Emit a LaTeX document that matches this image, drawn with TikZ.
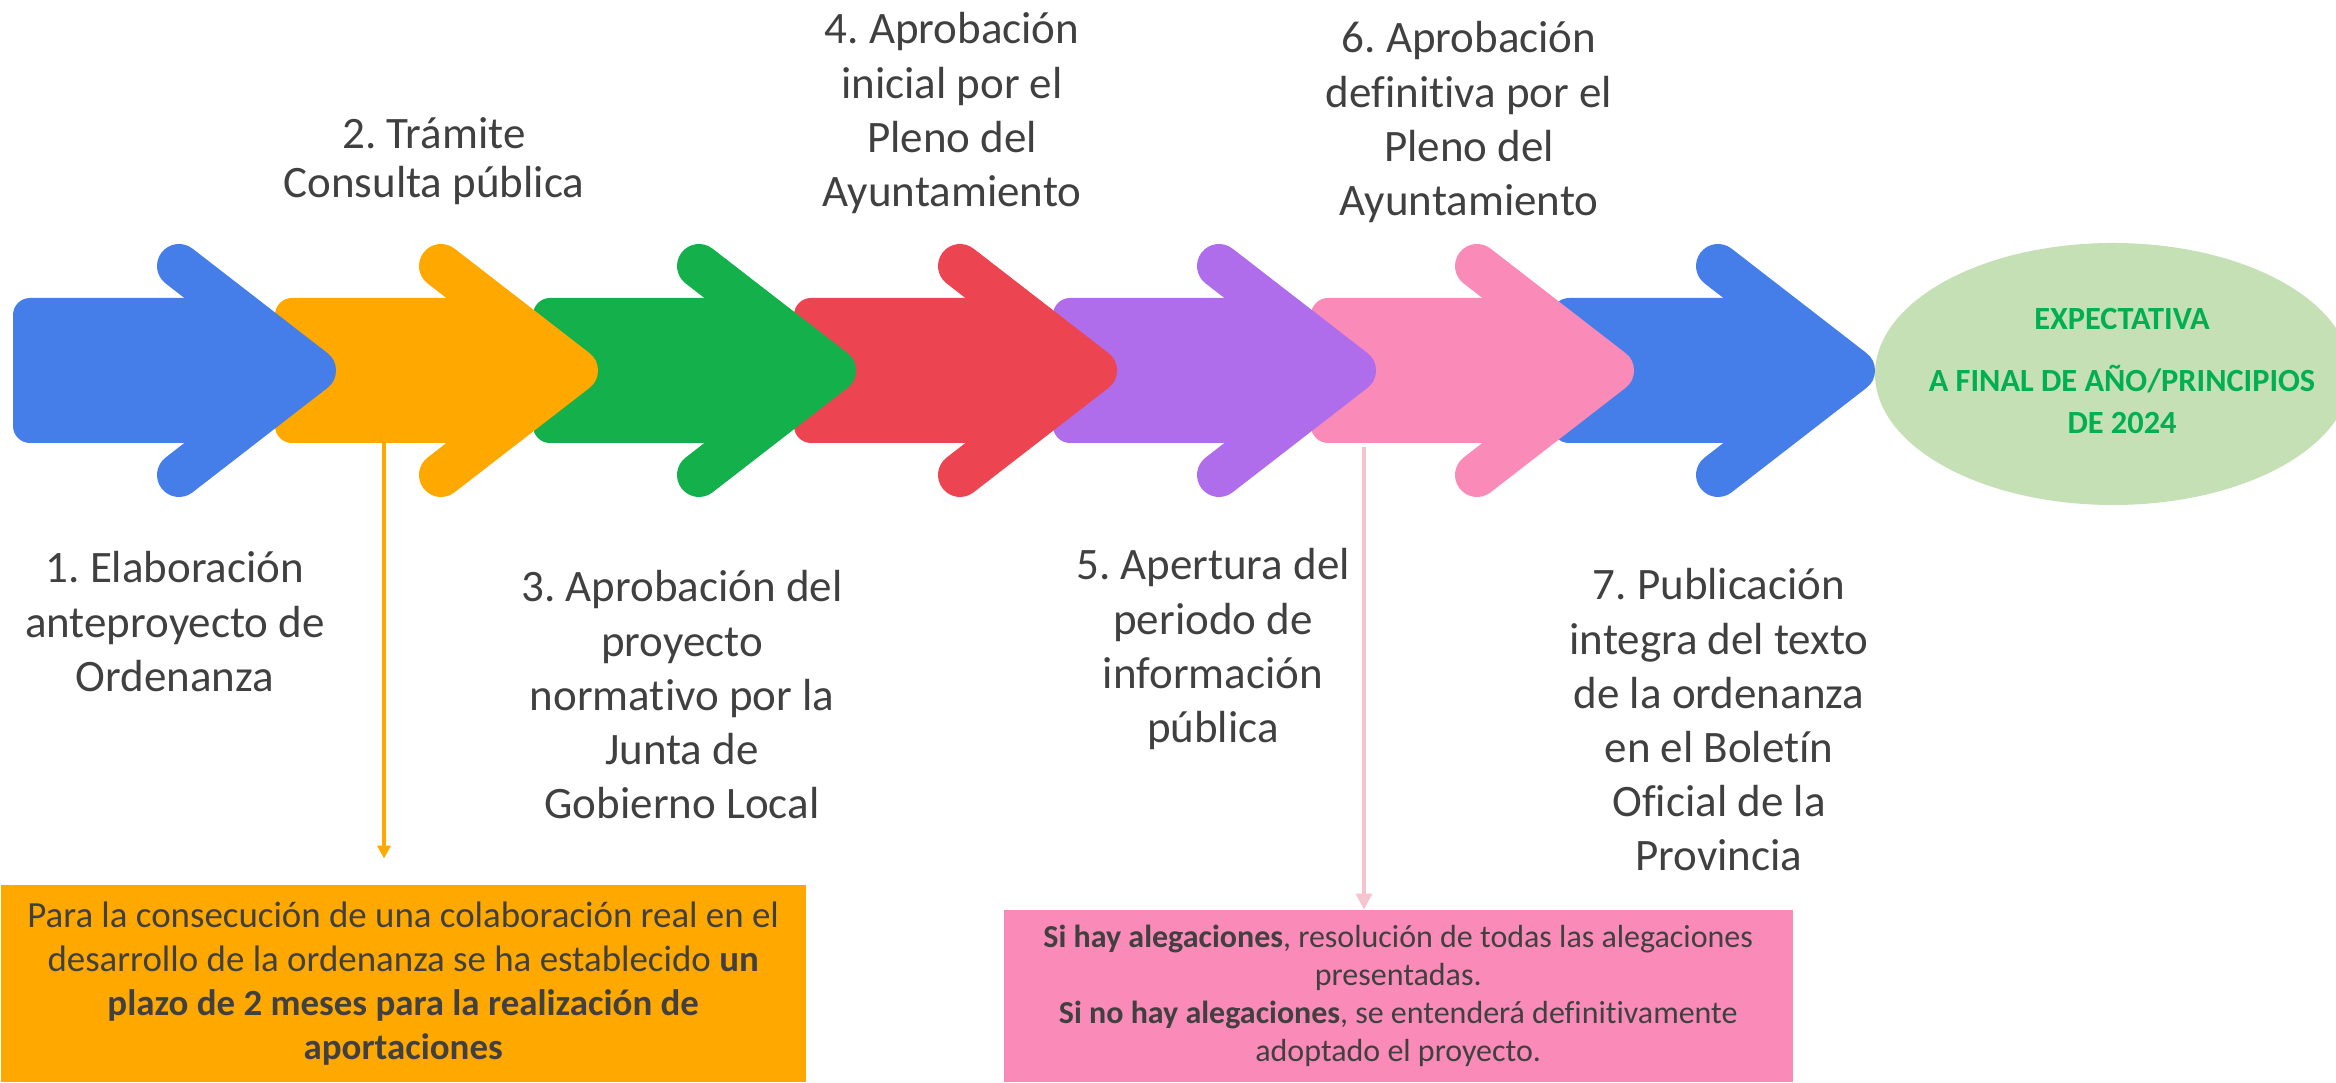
\documentclass[tikz,border=0pt]{standalone}
\usepackage{fontspec}
\setmainfont{Carlito}[Ligatures=NoCommon]
\usetikzlibrary{arrows.meta,shapes.geometric}
\frenchspacing

\definecolor{stepblue}{RGB}{70,126,233}
\definecolor{steporange}{RGB}{255,168,0}
\definecolor{stepgreen}{RGB}{20,176,76}
\definecolor{stepred}{RGB}{237,68,82}
\definecolor{steppurple}{RGB}{175,108,235}
\definecolor{steppink}{RGB}{250,138,184}
\definecolor{labelgray}{RGB}{64,64,64}
\definecolor{ovalgreen}{RGB}{197,224,180}
\definecolor{textgreen}{RGB}{0,176,80}
\definecolor{linkpink}{RGB}{246,196,206}

\begin{document}
\begin{tikzpicture}[
        stagelabel/.style={align=center, text=labelgray, inner sep=0pt, anchor=north,
            font=\fontsize{12.8}{15.4}\selectfont},
        notebox/.style={align=center, text=labelgray, inner sep=0pt, anchor=south west}
    ]
        \useasboundingbox (0,0) rectangle (23.36,10.83);

        % arrows, right to left so that the first one stays on top
        \foreach \x/\c in {15.52/stepblue, 13.11/steppink, 10.53/steppurple, 7.94/stepred,
                5.33/stepgreen, 2.75/steporange, 0.13/stepblue} {
            \fill[\c, rounded corners=0.17cm] (\x,6.4) rectangle ++(1.9,1.45);
            \fill[\c] (\x+1.7,7.85) -- (\x+3.01,7.125) -- (\x+1.7,6.4) -- cycle;
            \draw[\c, line width=0.44cm, line cap=round, line join=round]
                (\x+1.66,8.17) -- (\x+3.01,7.125) -- (\x+1.66,6.08);
        }

        \node[stagelabel] (elaboracion) at (1.75,5.32) {1. Elaboración\\anteproyecto de\\Ordenanza};
        \node[stagelabel, font=\fontsize{12.8}{13.8}\selectfont] (tramite) at (4.34,9.66) {2. Trámite\\Consulta pública};
        \node[stagelabel] (proyecto) at (6.82,5.13) {3. Aprobación del\\proyecto\\normativo por la\\Junta de\\Gobierno Local};
        \node[stagelabel] (inicial) at (9.52,10.71) {4. Aprobación\\inicial por el\\Pleno del\\Ayuntamiento};
        \node[stagelabel] (apertura) at (12.13,5.35) {5. Apertura del\\periodo de\\información\\pública};
        \node[stagelabel] (definitiva) at (14.69,10.62) {6. Aprobación\\definitiva por el\\Pleno del\\Ayuntamiento};
        \node[stagelabel] (publicacion) at (17.19,5.15) {7. Publicación\\integra del texto\\de la ordenanza\\en el Boletín\\Oficial de la\\Provincia};

        \node[ellipse, fill=ovalgreen, minimum width=4.76cm, minimum height=2.62cm, inner sep=0pt] (oval) at (21.13,7.09) {};
        \node[align=center, text=textgreen, inner sep=0pt, anchor=north,
            font=\bfseries\fontsize{9.2}{11.9}\selectfont] (expectativa) at (21.22,7.75)
            {EXPECTATIVA\\[0.2cm]A FINAL DE AÑO/PRINCIPIOS\\DE 2024};

        \node[notebox, fill=steporange, minimum width=8.05cm, minimum height=1.97cm,
            font=\fontsize{10.5}{12.5}\selectfont] (aportes) at (0,0)
            {Para la consecución de una colaboración real en el\\desarrollo de la ordenanza se ha establecido \textbf{un}\\\textbf{plazo de 2 meses para la realización de}\\\textbf{aportaciones}};
        \node[notebox, fill=steppink, minimum width=7.89cm, minimum height=1.72cm,
            font=\fontsize{9.1}{10.8}\selectfont] (alegaciones) at (10.03,0)
            {\textbf{Si hay alegaciones}, resolución de todas las alegaciones\\presentadas.\\\textbf{Si no hay alegaciones}, se entenderá definitivamente\\adoptado el proyecto.};

        \coordinate (orangefoot) at (3.84,6.4);
        \coordinate (pinkfoot) at (13.64,6.36);
        \draw[steporange, line width=1pt, -{Triangle[length=0.13cm, width=0.13cm]}, shorten >=0.26cm]
            (orangefoot) -- (orangefoot |- aportes.north);
        \draw[linkpink, line width=1pt, -{Triangle[length=0.16cm, width=0.16cm]}]
            (pinkfoot) -- (pinkfoot |- alegaciones.north);
    \end{tikzpicture}
\end{document}
